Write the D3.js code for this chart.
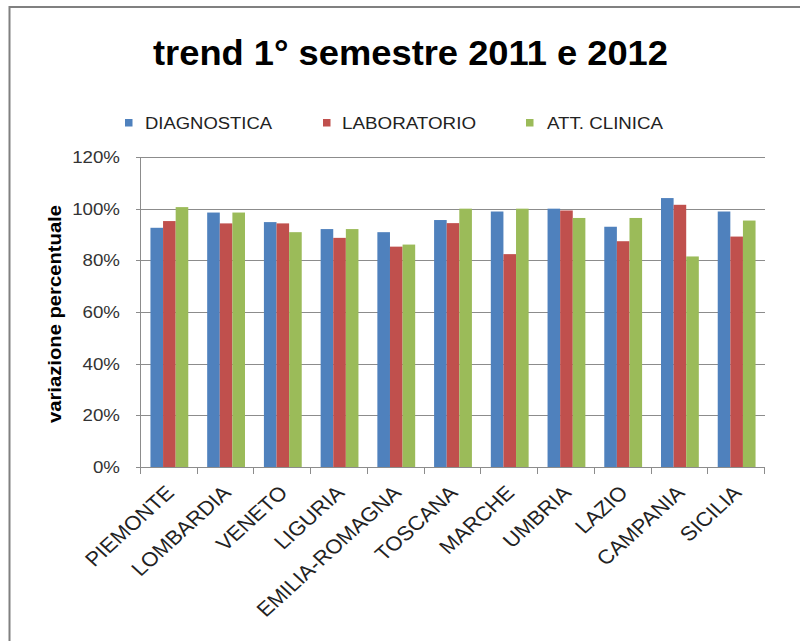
<!DOCTYPE html>
<html><head><meta charset="utf-8">
<script src="https://cdn.jsdelivr.net/npm/d3@7"></script>
<style>html,body{margin:0;padding:0;background:#fff;}svg{display:block;font-family:"Liberation Sans",Arial,sans-serif;}</style>
</head><body>
<svg id="chart" width="800" height="641"></svg>
<script>
const regions = ["PIEMONTE","LOMBARDIA","VENETO","LIGURIA","EMILIA-ROMAGNA","TOSCANA","MARCHE","UMBRIA","LAZIO","CAMPANIA","SICILIA"];
const seriesNames = ["DIAGNOSTICA","LABORATORIO","ATT. CLINICA"];
const diagnostica = [92.6, 98.5, 94.8, 92.1, 90.9, 95.6, 98.9, 100.0, 93.0, 104.1, 98.9];
const laboratorio = [95.2, 94.3, 94.3, 88.7, 85.3, 94.4, 82.4, 99.3, 87.4, 101.5, 89.2];
const attClinica  = [100.6, 98.5, 90.9, 92.1, 86.1, 100.0, 100.0, 96.4, 96.4, 81.5, 95.4];
const yTicks = [0, 20, 40, 60, 80, 100, 120];
const colors = ["#4F81BD","#C0504D","#9BBB59"];
const chartTitle = "trend 1° semestre 2011 e 2012";
const yTitle = "variazione percentuale";

(function(){
const series = [diagnostica, laboratorio, attClinica];
const svg = d3.select("#chart");
const SX = 1.17;

// frame
svg.append("line").attr("x1",9.5).attr("x2",800).attr("y1",7).attr("y2",7).attr("stroke","#808080").attr("stroke-width",2);
svg.append("line").attr("x1",9.5).attr("x2",9.5).attr("y1",6).attr("y2",641).attr("stroke","#808080").attr("stroke-width",2);

const pl = 141, pr = 765, pt = 157, pb = 467;
const x = d3.scaleBand().domain(regions).range([pl, pr]).paddingInner(0).paddingOuter(0);
const y = d3.scaleLinear().domain([0, 120]).range([pb, pt]);
const gap = x.bandwidth() / 4.5 * 1.5;
const x1 = d3.scaleBand().domain(d3.range(3)).range([gap/2, x.bandwidth() - gap/2]);

// gridlines
svg.append("g").selectAll("line").data(yTicks).join("line")
  .attr("x1", pl - 5).attr("x2", pr)
  .attr("y1", d => Math.round(y(d)) + 0.5).attr("y2", d => Math.round(y(d)) + 0.5)
  .attr("stroke", "#8c8c8c").attr("stroke-width", 1);

// y axis line
svg.append("line").attr("x1", pl - 0.5).attr("x2", pl - 0.5).attr("y1", pt).attr("y2", pb + 1)
  .attr("stroke", "#8c8c8c");

// bars
const g = svg.append("g");
regions.forEach((r, i) => {
  series.forEach((s, k) => {
    g.append("rect")
      .attr("x", x(r) + x1(k))
      .attr("width", x1.bandwidth())
      .attr("y", y(s[i]))
      .attr("height", y(0) - y(s[i]))
      .attr("fill", colors[k]);
  });
});

// x ticks
const bounds = regions.map(r => x(r)).concat([pr]);
svg.append("g").selectAll("line").data(bounds).join("line")
  .attr("x1", d => Math.round(d) - 0.5).attr("x2", d => Math.round(d) - 0.5)
  .attr("y1", pb).attr("y2", pb + 7)
  .attr("stroke", "#8c8c8c");

// y tick labels
svg.append("g").selectAll("text").data(yTicks).join("text")
  .attr("transform", d => `translate(120,${y(d) + 6}) scale(${SX},1)`)
  .attr("text-anchor", "end").attr("font-size", 16).attr("fill", "#333")
  .text(d => d + "%");

// x labels
svg.append("g").selectAll("text").data(regions).join("text")
  .attr("transform", d => `translate(${x(d) + x.bandwidth()/2 + 6},494) scale(1.1,1) rotate(-45)`)
  .attr("text-anchor", "end").attr("font-size", 20).attr("fill", "#222")
  .text(d => d);

// y title
svg.append("text")
  .attr("transform", "translate(61,314) rotate(-90)")
  .attr("text-anchor", "middle").attr("font-size", 18).attr("font-weight", "bold")
  .attr("textLength", 218).attr("lengthAdjust", "spacingAndGlyphs")
  .text(yTitle);

// title
svg.append("text").attr("x", 153).attr("y", 65)
  .attr("font-size", 35).attr("font-weight", "bold").attr("fill", "#000")
  .attr("textLength", 515).attr("lengthAdjust", "spacingAndGlyphs")
  .text(chartTitle);

// legend
const legendPos = [{sq:125, tx:145, tl:127}, {sq:323, tx:342, tl:134}, {sq:526, tx:547, tl:116}];
seriesNames.forEach((n, k) => {
  svg.append("rect").attr("x", legendPos[k].sq).attr("y", 119).attr("width", 7.5).attr("height", 7.5).attr("fill", colors[k]);
  svg.append("text").attr("x", legendPos[k].tx).attr("y", 128.5)
    .attr("font-size", 16).attr("fill", "#222")
    .attr("textLength", legendPos[k].tl).attr("lengthAdjust", "spacingAndGlyphs")
    .text(n);
});
})();
</script>
</body></html>
